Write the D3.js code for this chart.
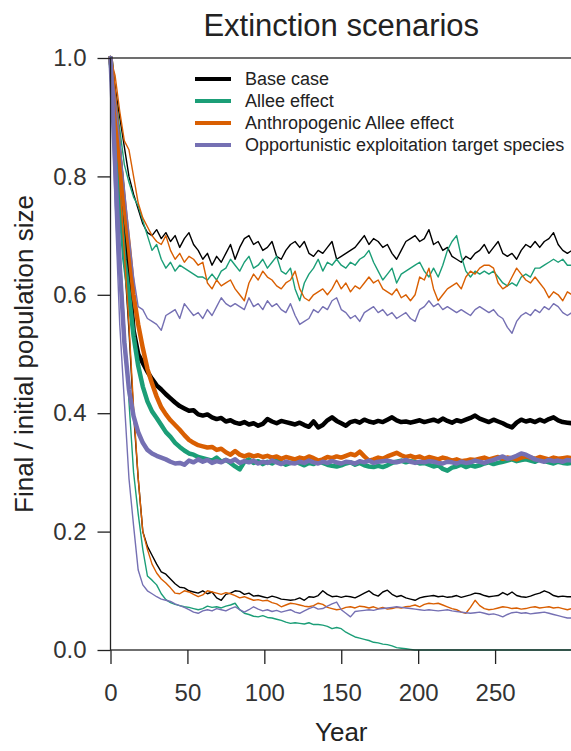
<!DOCTYPE html>
<html>
<head>
<meta charset="utf-8">
<script src="https://cdn.jsdelivr.net/npm/d3@7"></script>
<style>
  html, body { margin: 0; padding: 0; background: #fff; }
  svg { display: block; }
</style>
</head>
<body>
<svg id="chart" width="571" height="751"></svg>
<script>
// Simulation years (every 3 years)
const years = d3.range(0, 301, 3);

// Base case
const baseUpper = [
  1.00, 0.95, 0.90, 0.85, 0.80, 0.77, 0.745, 0.72, 0.705, 0.70,
  0.71, 0.695, 0.705, 0.69, 0.70, 0.68, 0.695, 0.705, 0.685, 0.675,
  0.66, 0.67, 0.65, 0.665, 0.655, 0.67, 0.685, 0.66, 0.68, 0.695,
  0.70, 0.685, 0.69, 0.675, 0.68, 0.69, 0.665, 0.66, 0.675, 0.685,
  0.69, 0.68, 0.69, 0.67, 0.665, 0.675, 0.67, 0.68, 0.69, 0.66,
  0.665, 0.67, 0.675, 0.68, 0.69, 0.70, 0.685, 0.695, 0.69, 0.68,
  0.685, 0.67, 0.66, 0.675, 0.69, 0.695, 0.70, 0.69, 0.695, 0.71,
  0.685, 0.69, 0.675, 0.68, 0.665, 0.66, 0.655, 0.665, 0.66, 0.67,
  0.675, 0.685, 0.67, 0.68, 0.69, 0.67, 0.665, 0.67, 0.66, 0.675,
  0.685, 0.68, 0.69, 0.68, 0.69, 0.695, 0.705, 0.685, 0.675, 0.67,
  0.675
];
const baseMean = [
  1.00, 0.92, 0.83, 0.74, 0.63, 0.54, 0.50, 0.485, 0.47, 0.458,
  0.447, 0.44, 0.432, 0.425, 0.418, 0.412, 0.408, 0.404, 0.405, 0.398,
  0.396, 0.398, 0.393, 0.39, 0.392, 0.386, 0.388, 0.384, 0.382, 0.385,
  0.381, 0.383, 0.379, 0.382, 0.39, 0.386, 0.383, 0.387, 0.385, 0.383,
  0.381, 0.384, 0.38, 0.377, 0.386, 0.376, 0.38, 0.388, 0.393, 0.387,
  0.383, 0.379, 0.385, 0.387, 0.384, 0.389, 0.386, 0.384, 0.387, 0.385,
  0.389, 0.393, 0.388, 0.385, 0.386, 0.384, 0.386, 0.388, 0.385, 0.387,
  0.389, 0.386, 0.391, 0.387, 0.384, 0.388, 0.386, 0.389, 0.392, 0.396,
  0.391, 0.388, 0.385, 0.389, 0.386, 0.383, 0.379, 0.376, 0.384, 0.389,
  0.386, 0.388, 0.385, 0.389, 0.386, 0.39, 0.393, 0.388, 0.385, 0.384,
  0.383
];
const baseLower = [
  1.00, 0.90, 0.78, 0.66, 0.54, 0.40, 0.29, 0.20, 0.175, 0.16,
  0.145, 0.132, 0.128, 0.12, 0.112, 0.106, 0.105, 0.10, 0.098, 0.096,
  0.10, 0.095, 0.098, 0.088, 0.084, 0.094, 0.096, 0.10, 0.099, 0.094,
  0.096, 0.091, 0.092, 0.09, 0.088, 0.091, 0.089, 0.086, 0.085, 0.084,
  0.085, 0.088, 0.084, 0.09, 0.089, 0.092, 0.10, 0.094, 0.09, 0.091,
  0.089, 0.091, 0.09, 0.088, 0.092, 0.096, 0.10, 0.094, 0.091, 0.098,
  0.101, 0.094, 0.09, 0.092, 0.088, 0.086, 0.084, 0.088, 0.09, 0.091,
  0.092, 0.09, 0.091, 0.089, 0.09, 0.092, 0.089, 0.091, 0.093, 0.096,
  0.095, 0.092, 0.09, 0.091, 0.092, 0.097, 0.093, 0.098, 0.092, 0.09,
  0.089, 0.091, 0.094, 0.096, 0.10, 0.097, 0.092, 0.09, 0.091, 0.09,
  0.09
];

// Allee effect
const alleeUpper = [
  1.00, 0.94, 0.88, 0.82, 0.79, 0.765, 0.75, 0.725, 0.70, 0.675,
  0.685, 0.66, 0.645, 0.655, 0.64, 0.65, 0.645, 0.64, 0.635, 0.63,
  0.63, 0.625, 0.635, 0.625, 0.64, 0.645, 0.66, 0.65, 0.64, 0.655,
  0.665, 0.645, 0.65, 0.66, 0.645, 0.655, 0.665, 0.64, 0.635, 0.645,
  0.61, 0.59, 0.62, 0.635, 0.645, 0.66, 0.64, 0.655, 0.65, 0.66,
  0.65, 0.645, 0.655, 0.65, 0.66, 0.665, 0.675, 0.655, 0.64, 0.625,
  0.635, 0.645, 0.62, 0.635, 0.64, 0.645, 0.65, 0.655, 0.64, 0.63,
  0.645, 0.63, 0.65, 0.675, 0.69, 0.70, 0.665, 0.64, 0.63, 0.64,
  0.635, 0.64, 0.635, 0.64, 0.63, 0.62, 0.615, 0.62, 0.615, 0.63,
  0.635, 0.63, 0.645, 0.645, 0.65, 0.655, 0.66, 0.655, 0.66, 0.65,
  0.65
];
const alleeMean = [
  1.00, 0.89, 0.76, 0.66, 0.60, 0.53, 0.48, 0.445, 0.42, 0.403,
  0.392, 0.38, 0.368, 0.36, 0.35, 0.343, 0.337, 0.332, 0.33, 0.326,
  0.324, 0.322, 0.32, 0.325, 0.318, 0.321, 0.316, 0.31, 0.305, 0.318,
  0.322, 0.316, 0.319, 0.314, 0.318, 0.315, 0.32, 0.317, 0.313, 0.316,
  0.318, 0.315, 0.312, 0.316, 0.314, 0.319, 0.316, 0.313, 0.311, 0.31,
  0.312, 0.315, 0.317, 0.313, 0.316, 0.312, 0.31, 0.309, 0.311, 0.309,
  0.312, 0.316, 0.318, 0.32, 0.317, 0.319, 0.318, 0.315, 0.316, 0.313,
  0.31, 0.312, 0.306, 0.303, 0.308, 0.31, 0.313, 0.309, 0.312, 0.31,
  0.312, 0.315, 0.317, 0.314, 0.316, 0.318, 0.32, 0.322, 0.319, 0.321,
  0.322, 0.32, 0.318, 0.322, 0.319, 0.317, 0.315, 0.318, 0.316, 0.315,
  0.316
];
const alleeLower = [
  1.00, 0.85, 0.68, 0.55, 0.42, 0.30, 0.23, 0.17, 0.125, 0.118,
  0.11, 0.095, 0.085, 0.08, 0.077, 0.075, 0.073, 0.072, 0.07, 0.068,
  0.07, 0.074, 0.072, 0.073, 0.071, 0.074, 0.076, 0.079, 0.068, 0.062,
  0.06, 0.057, 0.056, 0.058, 0.055, 0.054, 0.052, 0.05, 0.047, 0.045,
  0.046, 0.045, 0.044, 0.046, 0.043, 0.043, 0.042, 0.04, 0.036, 0.038,
  0.036, 0.03, 0.026, 0.022, 0.02, 0.018, 0.016, 0.013, 0.012, 0.01,
  0.009, 0.007, 0.004, 0.003, 0.002, 0.001, 0.0, 0.0, 0.0, 0.0,
  0.0, 0.0, 0.0, 0.0, 0.0, 0.0, 0.0, 0.0, 0.0, 0.0,
  0.0, 0.0, 0.0, 0.0, 0.0, 0.0, 0.0, 0.0, 0.0, 0.0,
  0.0, 0.0, 0.0, 0.0, 0.0, 0.0, 0.0, 0.0, 0.0, 0.0,
  0.0
];

// Anthropogenic Allee effect
const anthroUpper = [
  1.00, 0.97, 0.91, 0.86, 0.845, 0.80, 0.755, 0.73, 0.715, 0.70,
  0.69, 0.685, 0.70, 0.675, 0.66, 0.67, 0.655, 0.665, 0.66, 0.65,
  0.655, 0.62, 0.61, 0.625, 0.615, 0.62, 0.625, 0.61, 0.60, 0.59,
  0.62, 0.635, 0.625, 0.64, 0.63, 0.625, 0.615, 0.61, 0.62, 0.625,
  0.64, 0.61, 0.595, 0.59, 0.60, 0.605, 0.61, 0.60, 0.61, 0.625,
  0.61, 0.62, 0.605, 0.615, 0.61, 0.62, 0.63, 0.62, 0.625, 0.61,
  0.605, 0.60, 0.61, 0.595, 0.60, 0.59, 0.60, 0.63, 0.625, 0.645,
  0.61, 0.59, 0.60, 0.61, 0.615, 0.62, 0.61, 0.63, 0.64, 0.635,
  0.645, 0.65, 0.65, 0.645, 0.62, 0.61, 0.615, 0.63, 0.645, 0.635,
  0.625, 0.62, 0.63, 0.62, 0.61, 0.595, 0.605, 0.60, 0.59, 0.605,
  0.60
];
const anthroMean = [
  1.00, 0.92, 0.83, 0.75, 0.68, 0.60, 0.55, 0.51, 0.475, 0.45,
  0.428, 0.41, 0.398, 0.388, 0.38, 0.372, 0.363, 0.355, 0.35, 0.346,
  0.344, 0.342, 0.343, 0.338, 0.34, 0.334, 0.33, 0.336, 0.33, 0.327,
  0.33, 0.327, 0.329, 0.326, 0.328, 0.325, 0.327, 0.323, 0.326, 0.324,
  0.322, 0.325, 0.323, 0.327, 0.324, 0.32, 0.322, 0.326, 0.324, 0.327,
  0.325, 0.328, 0.331, 0.329, 0.335, 0.327, 0.32, 0.322, 0.325, 0.323,
  0.327, 0.33, 0.333, 0.329, 0.326, 0.328, 0.325, 0.327, 0.323, 0.326,
  0.324, 0.322, 0.325, 0.323, 0.32, 0.322, 0.319, 0.32, 0.322, 0.321,
  0.323, 0.325, 0.322, 0.324, 0.326, 0.323, 0.325, 0.324, 0.322, 0.325,
  0.327, 0.325, 0.323, 0.326, 0.324, 0.322, 0.325, 0.323, 0.324, 0.325,
  0.324
];
const anthroLower = [
  1.00, 0.90, 0.79, 0.67, 0.55, 0.41, 0.29, 0.20, 0.17, 0.145,
  0.13, 0.12, 0.113, 0.105, 0.096, 0.095, 0.10, 0.098, 0.094, 0.09,
  0.093, 0.10, 0.098, 0.096, 0.094, 0.097, 0.095, 0.092, 0.088, 0.09,
  0.087, 0.084, 0.085, 0.083, 0.084, 0.08, 0.078, 0.073, 0.076, 0.079,
  0.078, 0.076, 0.074, 0.073, 0.075, 0.079, 0.077, 0.072, 0.07, 0.068,
  0.069, 0.072, 0.073, 0.071, 0.074, 0.073, 0.071, 0.073, 0.07, 0.072,
  0.069, 0.07, 0.072, 0.071, 0.073, 0.074, 0.076, 0.073, 0.077, 0.079,
  0.078, 0.079, 0.076, 0.073, 0.07, 0.068, 0.064, 0.062, 0.072, 0.084,
  0.075, 0.07, 0.068, 0.069, 0.071, 0.073, 0.072, 0.07, 0.071, 0.069,
  0.07, 0.072, 0.073, 0.071, 0.072, 0.073, 0.071, 0.072, 0.07, 0.068,
  0.07
];

// Opportunistic exploitation target species
const oppUpper = [
  1.00, 0.93, 0.86, 0.78, 0.70, 0.63, 0.58, 0.575, 0.56, 0.555,
  0.55, 0.54, 0.565, 0.57, 0.575, 0.56, 0.585, 0.575, 0.565, 0.57,
  0.56, 0.575, 0.565, 0.58, 0.595, 0.585, 0.58, 0.585, 0.58, 0.575,
  0.595, 0.58, 0.585, 0.575, 0.59, 0.58, 0.585, 0.575, 0.57, 0.585,
  0.565, 0.55, 0.555, 0.56, 0.575, 0.57, 0.58, 0.575, 0.59, 0.595,
  0.575, 0.57, 0.56, 0.565, 0.555, 0.57, 0.575, 0.58, 0.57, 0.575,
  0.565, 0.57, 0.56, 0.565, 0.57, 0.56, 0.555, 0.575, 0.58, 0.59,
  0.58, 0.585, 0.575, 0.58, 0.575, 0.57, 0.575, 0.57, 0.565, 0.575,
  0.58, 0.575, 0.57, 0.575, 0.565, 0.56, 0.545, 0.535, 0.555, 0.565,
  0.57, 0.565, 0.575, 0.57, 0.58, 0.575, 0.585, 0.58, 0.57, 0.565,
  0.57
];
const oppMean = [
  1.00, 0.82, 0.65, 0.52, 0.44, 0.395, 0.368, 0.35, 0.338, 0.332,
  0.328, 0.325, 0.322, 0.318, 0.315, 0.316, 0.313, 0.32, 0.317, 0.322,
  0.318, 0.321, 0.316, 0.319, 0.317, 0.321, 0.318, 0.322, 0.316, 0.319,
  0.317, 0.32, 0.315, 0.318, 0.316, 0.32, 0.317, 0.314, 0.318, 0.316,
  0.315, 0.318, 0.316, 0.32, 0.317, 0.315, 0.318, 0.316, 0.319, 0.317,
  0.315, 0.318, 0.317, 0.315, 0.319, 0.317, 0.32, 0.316, 0.318, 0.319,
  0.32, 0.318, 0.317, 0.319, 0.321, 0.318, 0.316, 0.318, 0.317, 0.319,
  0.318, 0.316, 0.315, 0.318, 0.317, 0.315, 0.318, 0.316, 0.317, 0.32,
  0.318, 0.316, 0.319, 0.321, 0.324, 0.327, 0.323, 0.325, 0.328, 0.332,
  0.33, 0.326, 0.322, 0.32, 0.318, 0.321, 0.319, 0.32, 0.318, 0.321,
  0.32
];
const oppLower = [
  1.00, 0.75, 0.55, 0.42, 0.29, 0.21, 0.135, 0.11, 0.10, 0.095,
  0.09, 0.086, 0.084, 0.082, 0.078, 0.075, 0.072, 0.068, 0.064, 0.062,
  0.066, 0.068, 0.066, 0.07, 0.068, 0.066, 0.07, 0.073, 0.068, 0.064,
  0.068, 0.073, 0.069, 0.066, 0.068, 0.065, 0.067, 0.064, 0.066, 0.068,
  0.064, 0.062, 0.066, 0.07, 0.073, 0.069, 0.07, 0.074, 0.078, 0.081,
  0.068, 0.062, 0.056, 0.065, 0.066, 0.067, 0.068, 0.067, 0.069, 0.07,
  0.071, 0.072, 0.073, 0.072, 0.071, 0.07, 0.069, 0.068, 0.067, 0.068,
  0.067, 0.066, 0.067, 0.068, 0.066, 0.065, 0.064, 0.063, 0.062, 0.063,
  0.064, 0.062, 0.06, 0.061, 0.059, 0.056, 0.06, 0.063, 0.064, 0.062,
  0.063, 0.061, 0.062, 0.063, 0.064, 0.062, 0.06, 0.058, 0.056, 0.054,
  0.054
];

const scenarioNames = [
  "Base case",
  "Allee effect",
  "Anthropogenic Allee effect",
  "Opportunistic exploitation target species"
];
const scenarioColors = ["#000000", "#1b9e77", "#d95f02", "#7570b3"];
const yTickValues = [0, 0.2, 0.4, 0.6, 0.8, 1.0];
const xTickValues = [0, 50, 100, 150, 200, 250];

const scenarios = [
  { upper: baseUpper,   mean: baseMean,   lower: baseLower },
  { upper: alleeUpper,  mean: alleeMean,  lower: alleeLower },
  { upper: anthroUpper, mean: anthroMean, lower: anthroLower },
  { upper: oppUpper,    mean: oppMean,    lower: oppLower }
];

const FONT = "'Liberation Sans', Arial, Helvetica, sans-serif";
const svg = d3.select("#chart");

const plot = { left: 110.5, right: 572, top: 58, bottom: 650 };
const x = d3.scaleLinear().domain([0, 300]).range([plot.left, plot.right]);
const y = d3.scaleLinear().domain([0, 1]).range([plot.bottom, plot.top]);

// Title
svg.append("text")
  .attr("x", (plot.left + plot.right) / 2)
  .attr("y", 36)
  .attr("text-anchor", "middle")
  .style("font-family", FONT)
  .style("font-size", "31px")
  .style("fill", "#222")
  .text("Extinction scenarios");

// Series
const line = d3.line()
  .x((d, i) => x(years[i]))
  .y(d => y(d));

const seriesG = svg.append("g");
scenarios.forEach((s, k) => {
  [["upper", 1.4], ["lower", 1.4], ["mean", 4.5]].forEach(([key, w]) => {
    seriesG.append("path")
      .datum(s[key])
      .attr("d", line)
      .attr("fill", "none")
      .attr("stroke", scenarioColors[k])
      .attr("stroke-width", w)
      .attr("stroke-linejoin", "round")
      .attr("stroke-linecap", "round");
  });
});

// Frame around the plotting region
svg.append("rect")
  .attr("x", plot.left)
  .attr("y", plot.top)
  .attr("width", plot.right - plot.left)
  .attr("height", plot.bottom - plot.top)
  .attr("fill", "none")
  .attr("stroke", "#222")
  .attr("stroke-width", 1.3);

// Axes
const yAxis = d3.axisLeft(y)
  .tickValues(yTickValues)
  .tickFormat(d3.format(".1f"))
  .tickSize(13)
  .tickPadding(11);
const yG = svg.append("g")
  .attr("transform", `translate(${plot.left},0)`)
  .call(yAxis);

const xAxis = d3.axisBottom(x)
  .tickValues(xTickValues)
  .tickFormat(d3.format("d"))
  .tickSize(14)
  .tickPadding(20);
const xG = svg.append("g")
  .attr("transform", `translate(0,${plot.bottom})`)
  .call(xAxis);

[yG, xG].forEach(g => {
  g.select(".domain").remove();
  g.selectAll(".tick line").attr("stroke", "#222").attr("stroke-width", 1.3);
  g.selectAll(".tick text")
    .style("font-family", FONT)
    .style("font-size", "24px")
    .style("fill", "#333");
});

// Axis titles
svg.append("text")
  .attr("x", (plot.left + plot.right) / 2)
  .attr("y", 741)
  .attr("text-anchor", "middle")
  .style("font-family", FONT)
  .style("font-size", "26px")
  .style("fill", "#222")
  .text("Year");

svg.append("text")
  .attr("transform", `translate(33,${(plot.top + plot.bottom) / 2}) rotate(-90)`)
  .attr("text-anchor", "middle")
  .style("font-family", FONT)
  .style("font-size", "26px")
  .style("fill", "#222")
  .text("Final / initial population size");

// Legend
const legend = svg.append("g");
scenarioNames.forEach((name, i) => {
  const ly = 79 + i * 22;
  legend.append("line")
    .attr("x1", 195).attr("x2", 231)
    .attr("y1", ly).attr("y2", ly)
    .attr("stroke", scenarioColors[i])
    .attr("stroke-width", 4);
  legend.append("text")
    .attr("x", 245)
    .attr("y", ly)
    .attr("dy", "0.35em")
    .style("font-family", FONT)
    .style("font-size", "18px")
    .style("fill", "#222")
    .text(name);
});
</script>
</body>
</html>
